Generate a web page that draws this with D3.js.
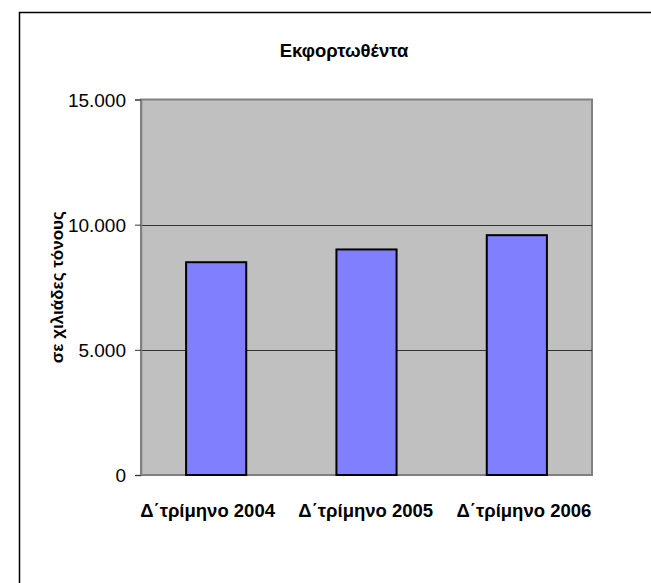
<!DOCTYPE html>
<html>
<head>
<meta charset="utf-8">
<script src="https://cdn.jsdelivr.net/npm/d3@7"></script>
<style>
  body { margin: 0; background: #fff; }
  text { font-family: "Liberation Sans", Arial, sans-serif; fill: #000; }
</style>
</head>
<body>
<div id="chart"></div>
<script>
const categories = ["Δ΄τρίμηνο 2004", "Δ΄τρίμηνο 2005", "Δ΄τρίμηνο 2006"];
const values = [8500, 9010, 9580];
const yTicks = [0, 5000, 10000, 15000];
const title = "Εκφορτωθέντα";
const yTitle = "σε χιλιάδες τόνους";

const width = 651, height = 583;
const margin = {top: 99.5, right: 59, bottom: 108, left: 141};

const svg = d3.select("#chart")
    .append("svg")
    .attr("width", width)
    .attr("height", height);

// outer chart border (runs off right/bottom edge)
svg.append("rect")
    .attr("x", 19.5).attr("y", 12.5)
    .attr("width", 660).attr("height", 600)
    .attr("fill", "none")
    .attr("stroke", "#000")
    .attr("stroke-width", 1.5);

const x = d3.scaleBand()
    .domain(categories)
    .range([margin.left, width - margin.right])
    .paddingInner(0.6)
    .paddingOuter(0.3);

// category labels are laid out over a slightly wider span than the plot
const xl = d3.scaleBand()
    .domain(categories)
    .range([128.5, 603]);

const y = d3.scaleLinear()
    .domain([0, 15000])
    .range([height - margin.bottom, margin.top]);

// plot area
svg.append("rect")
    .attr("x", margin.left)
    .attr("y", y(15000))
    .attr("width", width - margin.right - margin.left)
    .attr("height", y(0) - y(15000))
    .attr("fill", "#c0c0c0")
    .attr("stroke", "#808080")
    .attr("stroke-width", 2);

// gridlines
svg.append("g")
    .selectAll("line")
    .data(yTicks.filter(d => d > 0 && d < 15000))
    .enter().append("line")
    .attr("x1", margin.left).attr("x2", width - margin.right)
    .attr("y1", d => Math.round(y(d)) + 0.5)
    .attr("y2", d => Math.round(y(d)) + 0.5)
    .attr("stroke", "#333")
    .attr("stroke-width", 1);

// bars
svg.append("g")
    .selectAll("rect")
    .data(values)
    .enter().append("rect")
    .attr("x", (d, i) => x(categories[i]))
    .attr("y", d => y(d))
    .attr("width", x.bandwidth())
    .attr("height", d => y(0) - y(d))
    .attr("fill", "#8080ff")
    .attr("stroke", "#000")
    .attr("stroke-width", 2);

// y axis
const yAxis = d3.axisLeft(y)
    .tickValues(yTicks)
    .tickSize(6)
    .tickPadding(9)
    .tickFormat(d => d3.format(",")(d).replace(/,/g, "."));

const ya = svg.append("g")
    .attr("transform", `translate(${margin.left},0)`)
    .call(yAxis);
ya.select(".domain").attr("stroke", "#808080").attr("stroke-width", 1.5);
ya.selectAll(".tick line").attr("stroke", "#333");
ya.selectAll(".tick text")
    .attr("font-size", 19)
    .attr("font-family", "Liberation Sans, Arial, sans-serif")
    .attr("dy", "0.36em");

// x labels
svg.append("g")
    .selectAll("text")
    .data(categories)
    .enter().append("text")
    .attr("x", d => xl(d) + xl.bandwidth() / 2)
    .attr("y", 517)
    .attr("text-anchor", "middle")
    .attr("font-size", 18.5)
    .attr("font-weight", "bold")
    .text(d => d);

// title
svg.append("text")
    .attr("x", 344)
    .attr("y", 57)
    .attr("text-anchor", "middle")
    .attr("font-size", 18.5)
    .attr("font-weight", "bold")
    .text(title);

// y title
svg.append("text")
    .attr("transform", `translate(63,${(y(0) + y(15000)) / 2}) rotate(-90)`)
    .attr("text-anchor", "middle")
    .attr("font-size", 17)
    .attr("font-weight", "bold")
    .text(yTitle);
</script>
</body>
</html>
